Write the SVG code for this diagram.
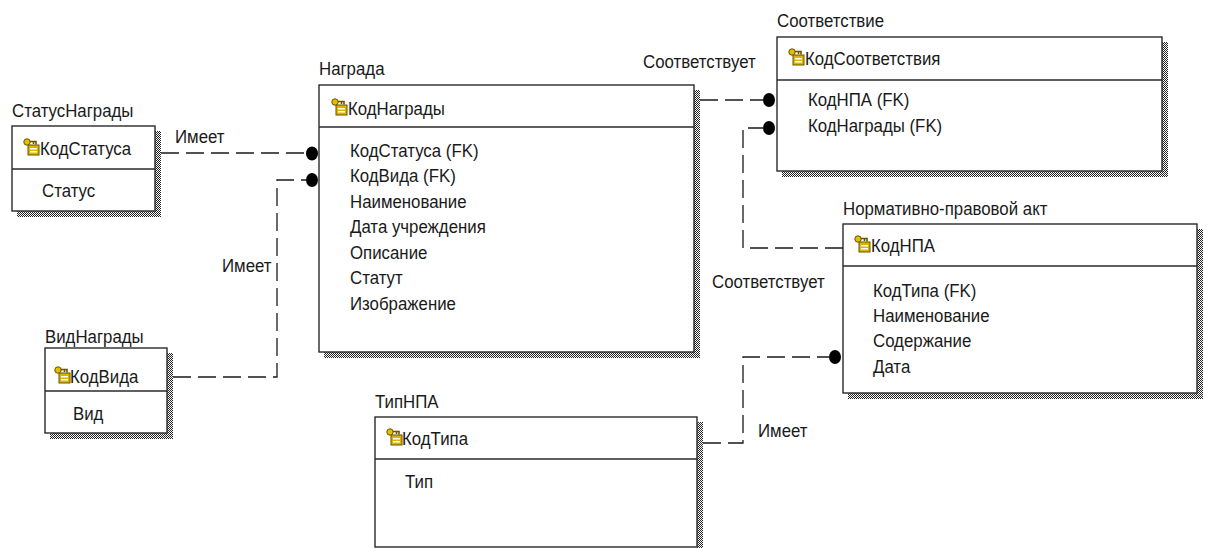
<svg xmlns="http://www.w3.org/2000/svg" width="1208" height="548" viewBox="0 0 1208 548">
  <defs>
    <pattern id="dither" width="2" height="2" patternUnits="userSpaceOnUse">
      <rect width="2" height="2" fill="#ffffff"/>
      <rect x="0" y="0" width="1" height="1" fill="#222"/>
      <rect x="1" y="1" width="1" height="1" fill="#222"/>
    </pattern>
    <!-- primary key icon -->
    <g id="pk">
      <rect x="6" y="8" width="11" height="10" fill="#d9b400" stroke="#6a5400" stroke-width="1"/>
      <rect x="8" y="11" width="7" height="1.5" fill="#fff"/>
      <rect x="8" y="14" width="7" height="1.5" fill="#fff"/>
      <circle cx="5" cy="5" r="3.2" fill="#e0c000" stroke="#6a5400" stroke-width="1"/>
      <path d="M8 4.5 H14 V7.5 M11.5 4.5 V7" fill="none" stroke="#6a5400" stroke-width="1.6"/>
    </g>
  </defs>
  <style>
    text { font-family: "Liberation Sans", Arial, sans-serif; font-size: 18.5px; fill: #1a1a1a;
           transform-box: fill-box; transform-origin: 0 50%; transform: scaleX(0.91); }
    .box { fill: #ffffff; stroke: #2a2a2a; stroke-width: 1.4; }
    .div { stroke: #2a2a2a; stroke-width: 1.4; }
    .shadow { fill: url(#dither); }
    .rel { fill: none; stroke: #1a1a1a; stroke-width: 1.3; stroke-dasharray: 18 7; }
    .dot { fill: #000000; }
  </style>
  <rect width="1208" height="548" fill="#ffffff"/>

  <!-- СтатусНаграды -->
  <g id="status">
    <rect class="shadow" x="155" y="131" width="6" height="86"/>
    <rect class="shadow" x="17" y="211" width="144" height="6"/>
    <rect class="box" x="12" y="126" width="143" height="85"/>
    <line class="div" x1="12" y1="169" x2="155" y2="169"/>
    <text x="12" y="117">СтатусНаграды</text>
    <use href="#pk" x="22" y="137"/>
    <text x="40" y="155">КодСтатуса</text>
    <text x="42" y="197">Статус</text>
  </g>

  <!-- Награда -->
  <g id="nagrada">
    <rect class="shadow" x="694" y="90" width="6" height="268"/>
    <rect class="shadow" x="324" y="352" width="376" height="6"/>
    <rect class="box" x="319" y="85" width="375" height="267"/>
    <line class="div" x1="319" y1="127" x2="694" y2="127"/>
    <text x="319" y="75">Награда</text>
    <use href="#pk" x="330" y="97"/>
    <text x="348" y="115">КодНаграды</text>
    <text x="350" y="157">КодСтатуса (FK)</text>
    <text x="350" y="182.5">КодВида (FK)</text>
    <text x="350" y="208">Наименование</text>
    <text x="350" y="233.5">Дата учреждения</text>
    <text x="350" y="259">Описание</text>
    <text x="350" y="284.5">Статут</text>
    <text x="350" y="310">Изображение</text>
  </g>

  <!-- Соответствие -->
  <g id="sootvetstvie">
    <rect class="shadow" x="1162" y="42" width="6" height="135"/>
    <rect class="shadow" x="782" y="171" width="386" height="6"/>
    <rect class="box" x="777" y="37" width="385" height="134"/>
    <line class="div" x1="777" y1="80" x2="1162" y2="80"/>
    <text x="777" y="27">Соответствие</text>
    <use href="#pk" x="787" y="47"/>
    <text x="805" y="65">КодСоответствия</text>
    <text x="808" y="106">КодНПА (FK)</text>
    <text x="808" y="132">КодНаграды (FK)</text>
  </g>

  <!-- Нормативно-правовой акт -->
  <g id="npa">
    <rect class="shadow" x="1197" y="229" width="6" height="170"/>
    <rect class="shadow" x="848" y="393" width="355" height="6"/>
    <rect class="box" x="843" y="224" width="354" height="169"/>
    <line class="div" x1="843" y1="266" x2="1197" y2="266"/>
    <text x="843" y="215">Нормативно-правовой акт</text>
    <use href="#pk" x="853" y="234"/>
    <text x="871" y="252">КодНПА</text>
    <text x="873" y="297">КодТипа (FK)</text>
    <text x="873" y="322">Наименование</text>
    <text x="873" y="347.5">Содержание</text>
    <text x="873" y="373">Дата</text>
  </g>

  <!-- ВидНаграды -->
  <g id="vid">
    <rect class="shadow" x="167" y="353" width="6" height="86"/>
    <rect class="shadow" x="50" y="433" width="123" height="6"/>
    <rect class="box" x="45" y="348" width="122" height="85"/>
    <line class="div" x1="45" y1="391" x2="167" y2="391"/>
    <text x="45" y="343">ВидНаграды</text>
    <use href="#pk" x="53" y="365"/>
    <text x="70" y="383">КодВида</text>
    <text x="73" y="420">Вид</text>
  </g>

  <!-- ТипНПА -->
  <g id="tipnpa">
    <rect class="shadow" x="697" y="422" width="6" height="130"/>
    <rect class="box" x="375" y="417" width="322" height="130"/>
    <line class="div" x1="375" y1="459" x2="697" y2="459"/>
    <text x="375" y="408">ТипНПА</text>
    <use href="#pk" x="385" y="427"/>
    <text x="402" y="445">КодТипа</text>
    <text x="405" y="488">Тип</text>
  </g>

  <!-- relationships -->
  <g id="connectors">
    <path class="rel" d="M161 153 H306"/>
    <ellipse class="dot" cx="312" cy="153.5" rx="6" ry="7"/>
    <text x="175" y="143">Имеет</text>

    <path class="rel" d="M173 377 H277 V180 H306"/>
    <ellipse class="dot" cx="312" cy="180" rx="6" ry="7"/>
    <text x="222" y="272">Имеет</text>

    <path class="rel" d="M700 100 H763"/>
    <ellipse class="dot" cx="769" cy="100" rx="6" ry="7"/>
    <text x="643" y="68">Соответствует</text>

    <path class="rel" d="M843 248 H743 V128 H763"/>
    <ellipse class="dot" cx="769" cy="128" rx="6" ry="7"/>
    <text x="712" y="288">Соответствует</text>

    <path class="rel" d="M703 443 H743 V357 H829"/>
    <ellipse class="dot" cx="835" cy="357" rx="6" ry="7"/>
    <text x="758" y="437">Имеет</text>
  </g>
</svg>
